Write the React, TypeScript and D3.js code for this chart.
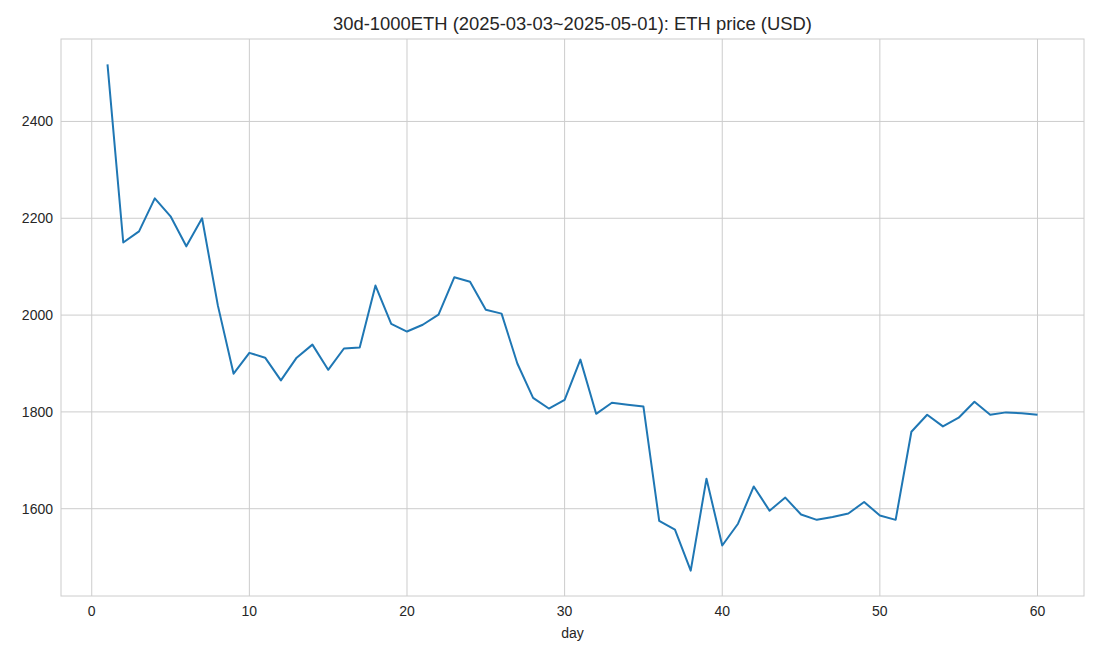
import React from "react";
import * as d3 from "d3";

const days = d3.range(1, 61);
const prices = [
  2518, 2150, 2173, 2241, 2204, 2142, 2200, 2020, 1879, 1922,
  1912, 1865, 1912, 1939, 1887, 1931, 1933, 2061, 1982, 1966,
  1980, 2001, 2078, 2069, 2011, 2003, 1900, 1829, 1807, 1825,
  1908, 1796, 1819, 1815, 1811, 1575, 1557, 1472, 1662, 1524,
  1569, 1646, 1596, 1623, 1588, 1577, 1583, 1590, 1614, 1586,
  1577, 1759, 1794, 1770, 1788, 1821, 1794, 1799, 1797, 1794,
];
const xTicks = [0, 10, 20, 30, 40, 50, 60];
const yTicks = [1600, 1800, 2000, 2200, 2400];

const W = 1100, H = 660;
const m = { left: 61, right: 1084, top: 39, bottom: 596 };

export default function App() {
  const x = d3.scaleLinear().domain([-1.95, 62.95]).range([m.left, m.right]);
  const yMin = d3.min(prices)!, yMax = d3.max(prices)!;
  const pad = (yMax - yMin) * 0.05;
  const y = d3.scaleLinear().domain([yMin - pad, yMax + pad]).range([m.bottom, m.top]);
  const line = d3.line<number>().x((_, i) => x(days[i])).y(d => y(d));
  const font = "'Liberation Sans', Arial, sans-serif";

  return (
    <svg width={W} height={H} style={{ position: "absolute", left: 0, top: 0, background: "#fff" }} fontFamily={font}>
      {xTicks.map(t => (
        <g key={t}>
          <line x1={x(t)} x2={x(t)} y1={m.top} y2={m.bottom} stroke="#cccccc" strokeWidth={1} />
          <text x={x(t)} y={m.bottom + 20} textAnchor="middle" fontSize={14} fill="#262626">{t}</text>
        </g>
      ))}
      {yTicks.map(t => (
        <g key={t}>
          <line x1={m.left} x2={m.right} y1={y(t)} y2={y(t)} stroke="#cccccc" strokeWidth={1} />
          <text x={m.left - 8} y={y(t)} dy="0.35em" textAnchor="end" fontSize={14} fill="#262626">{t}</text>
        </g>
      ))}
      <rect x={m.left} y={m.top} width={m.right - m.left} height={m.bottom - m.top} fill="none" stroke="#cccccc" strokeWidth={1} />
      <path d={line(prices)!} fill="none" stroke="#1f77b4" strokeWidth={2} strokeLinejoin="round" />
      <text x={(m.left + m.right) / 2} y={638} textAnchor="middle" fontSize={14} fill="#262626">day</text>
      <text x={(m.left + m.right) / 2} y={30} textAnchor="middle" fontSize={18.4} fill="#262626">
        30d-1000ETH (2025-03-03~2025-05-01): ETH price (USD)
      </text>
    </svg>
  );
}
